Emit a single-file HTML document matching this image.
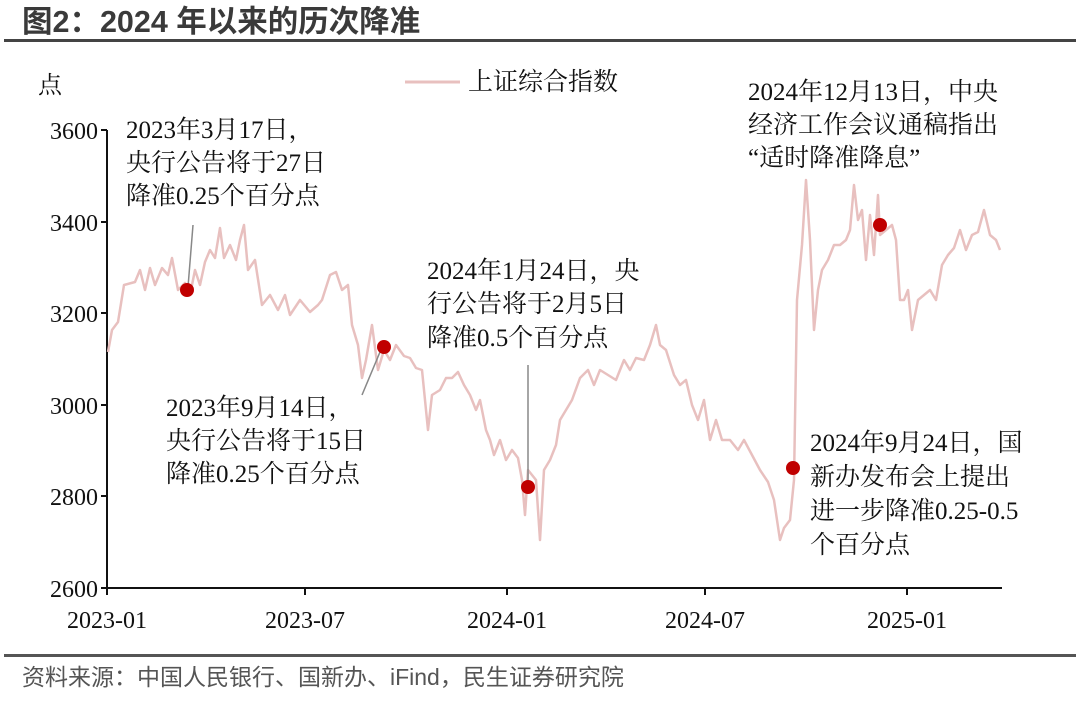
<!DOCTYPE html>
<html><head><meta charset="utf-8"><style>
body{margin:0;background:#fff;width:1080px;height:696px;overflow:hidden}
svg text{font-family:"Liberation Serif","Noto Serif CJK SC",serif;fill:#111}
</style></head><body>
<svg width="1080" height="696" viewBox="0 0 1080 696" xmlns="http://www.w3.org/2000/svg">
<text x="22" y="32" style="font-family:'Liberation Sans','Noto Sans CJK SC',sans-serif;font-weight:bold;font-size:30.5px;fill:#3a3a3a">图2：2024 年以来的历次降准</text>
<rect x="4" y="39" width="1072" height="3" fill="#444"/>
<rect x="4" y="654" width="1072" height="3" fill="#555"/>
<text x="22" y="685" style="font-family:'Liberation Sans','Noto Sans CJK SC',sans-serif;font-size:23px;fill:#555">资料来源：中国人民银行、国新办、iFind，民生证券研究院</text>
<text x="38" y="93" font-size="24">点</text>
<g font-size="24" text-anchor="end">
<text x="98" y="139">3600</text><text x="98" y="231">3400</text><text x="98" y="322">3200</text>
<text x="98" y="414">3000</text><text x="98" y="505">2800</text><text x="98" y="597">2600</text>
</g>
<g stroke="#111" stroke-width="2" fill="none">
<path d="M107 130V588H1002"/>
<path d="M101 130H107M101 222H107M101 313H107M101 405H107M101 496H107M101 588H107"/>
<path d="M107 588v7M305 588v7M507 588v7M705 588v7M907 588v7"/>
</g>
<g font-size="24" text-anchor="middle">
<text x="107" y="628">2023-01</text><text x="305" y="628">2023-07</text><text x="507" y="628">2024-01</text><text x="705" y="628">2024-07</text><text x="907" y="628">2025-01</text>
</g>
<line x1="405" y1="82" x2="460" y2="82" stroke="#e8c0bf" stroke-width="3"/>
<text x="468" y="90" font-size="25">上证综合指数</text>
<polyline fill="none" stroke="#e8c0bf" stroke-width="2.5" stroke-linejoin="round" points="108,352 112,330 118,322 124,285 135,282 140,270 145,290 150,268 155,285 162,268 168,275 172,258 178,290 185,283 190,295 195,270 200,285 205,262 210,250 215,258 220,228 224,258 230,245 236,260 240,240 244,225 248,270 255,260 262,305 270,295 278,310 285,295 290,315 300,300 310,312 318,305 322,300 330,275 336,272 342,290 348,285 352,325 358,345 362,378 366,360 372,325 378,370 384,350 390,360 396,345 404,356 410,358 416,368 422,370 428,430 432,395 440,390 446,378 452,378 458,372 464,385 470,395 476,410 480,400 486,430 490,440 494,455 500,440 506,460 512,450 518,458 522,480 525,515 528,470 532,475 536,480 540,540 544,470 550,460 556,445 560,420 566,410 572,400 580,378 588,370 594,385 600,370 608,375 616,380 624,360 630,370 636,358 644,360 650,345 656,325 660,345 666,350 674,375 680,385 686,380 692,405 698,420 704,400 710,440 716,420 722,440 730,440 738,450 744,440 752,455 760,470 768,482 774,500 780,540 784,528 790,520 794,480 797,300 802,245 806,180 810,240 814,330 818,290 822,270 828,260 834,245 840,245 846,240 850,230 854,185 858,220 862,210 866,260 870,215 874,255 878,195 880,235 886,230 892,225 896,240 900,300 904,300 908,290 912,330 918,300 924,295 930,290 936,300 942,265 948,255 954,248 960,230 966,250 972,235 978,232 984,210 990,235 996,240 1000,250"/>
<g stroke="#888" stroke-width="1.5">
<line x1="188" y1="287" x2="193" y2="225"/>
<line x1="380" y1="352" x2="362" y2="395"/>
<line x1="528" y1="484" x2="528" y2="365"/>
</g>
<g fill="#c00000">
<circle cx="187" cy="290" r="7"/><circle cx="384" cy="347" r="7"/><circle cx="528" cy="487" r="7"/><circle cx="793" cy="468" r="7"/><circle cx="880" cy="225" r="7"/>
</g>
<g font-size="25">
<text x="126" y="138">2023年3月17日，</text><text x="126" y="171">央行公告将于27日</text><text x="126" y="204">降准0.25个百分点</text>
<text x="166" y="416">2023年9月14日，</text><text x="166" y="449">央行公告将于15日</text><text x="166" y="482">降准0.25个百分点</text>
<text x="427" y="279">2024年1月24日，央</text><text x="427" y="312">行公告将于2月5日</text><text x="427" y="346">降准0.5个百分点</text>
<text x="748" y="100">2024年12月13日，中央</text><text x="748" y="133">经济工作会议通稿指出</text><text x="748" y="166">“适时降准降息”</text>
<text x="810" y="451">2024年9月24日，国</text><text x="810" y="485">新办发布会上提出</text><text x="810" y="519">进一步降准0.25-0.5</text><text x="810" y="553">个百分点</text>
</g>
</svg>
</body></html>
